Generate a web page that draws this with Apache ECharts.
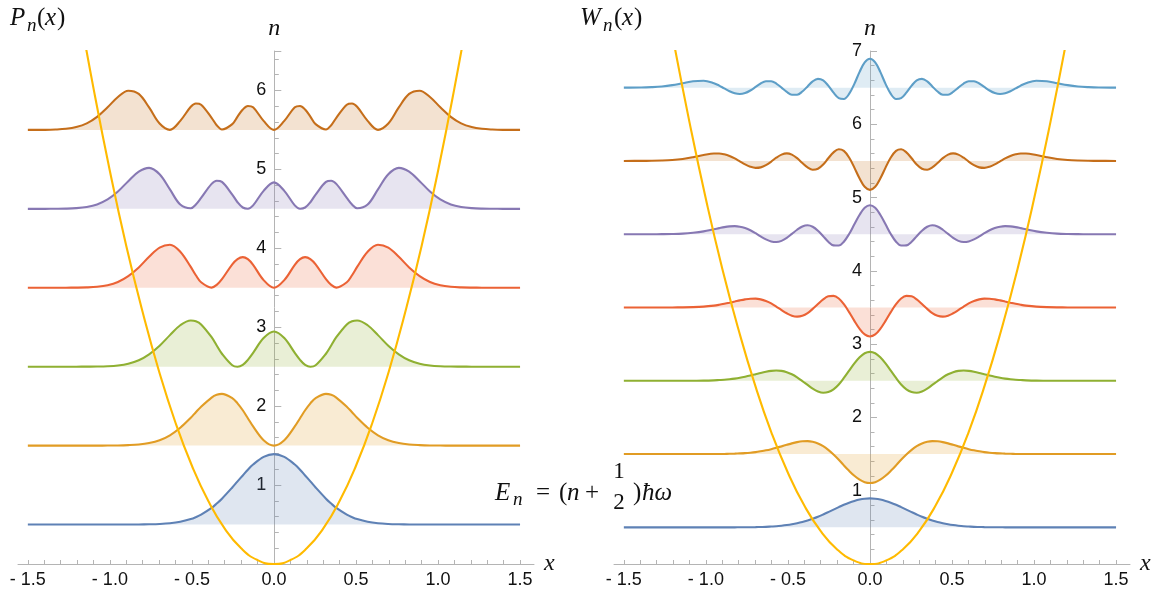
<!DOCTYPE html>
<html><head><meta charset="utf-8">
<script src="https://cdn.jsdelivr.net/npm/echarts@6/dist/echarts.min.js"></script>
<style>html,body{margin:0;padding:0;background:#fff}#c{width:1154px;height:593px}</style>
</head><body><div id="c"></div>
<script>
// ---- left panel: probability densities P_n(x) ----
const xLeft = [-1.5,-1.395,-1.331,-1.268,-1.205,-1.141,-1.078,-1.014,-0.951,-0.888,-0.824,-0.761,-0.697,-0.634,-0.571,-0.507,-0.476,-0.444,-0.38,-0.349,-0.317,-0.254,-0.222,-0.19,-0.159,-0.127,-0.063,0,0.063,0.127,0.159,0.19,0.222,0.254,0.317,0.349,0.38,0.444,0.476,0.507,0.571,0.634,0.697,0.761,0.824,0.888,0.951,1.014,1.078,1.141,1.205,1.268,1.331,1.395,1.5];
const P0 = [0,0,0,0,0,0,0,0,0,0,0.001,0.003,0.007,0.016,0.035,0.069,0.094,0.126,0.211,0.266,0.328,0.47,0.547,0.622,0.695,0.76,0.857,0.892,0.857,0.76,0.695,0.622,0.547,0.47,0.328,0.266,0.211,0.126,0.094,0.069,0.035,0.016,0.007,0.003,0.001,0,0,0,0,0,0,0,0,0,0];
const P1 = [0,0,0,0,0,0,0,0.001,0.002,0.006,0.014,0.032,0.068,0.131,0.226,0.353,0.423,0.493,0.609,0.644,0.656,0.602,0.536,0.448,0.347,0.243,0.069,0,0.069,0.243,0.347,0.448,0.536,0.602,0.656,0.644,0.609,0.493,0.423,0.353,0.226,0.131,0.068,0.032,0.014,0.006,0.002,0.001,0,0,0,0,0,0,0];
const P2 = [0,0,0,0,0,0.001,0.002,0.006,0.016,0.038,0.081,0.156,0.266,0.4,0.525,0.585,0.576,0.536,0.374,0.268,0.164,0.018,0,0.024,0.087,0.176,0.363,0.446,0.363,0.176,0.087,0.024,0,0.018,0.164,0.268,0.374,0.536,0.576,0.585,0.525,0.4,0.266,0.156,0.081,0.038,0.016,0.006,0.002,0.001,0,0,0,0,0];
const P3 = [0,0,0,0.001,0.002,0.005,0.013,0.033,0.074,0.148,0.258,0.392,0.508,0.545,0.457,0.264,0.159,0.07,0.002,0.036,0.109,0.297,0.364,0.388,0.362,0.291,0.097,0,0.097,0.291,0.362,0.388,0.364,0.297,0.109,0.036,0.002,0.07,0.159,0.264,0.457,0.545,0.508,0.392,0.258,0.148,0.074,0.033,0.013,0.005,0.002,0.001,0,0,0];
const P4 = [0,0,0.001,0.003,0.009,0.024,0.056,0.119,0.22,0.351,0.472,0.519,0.438,0.246,0.054,0.007,0.055,0.139,0.316,0.356,0.342,0.181,0.084,0.017,0.002,0.044,0.228,0.335,0.228,0.044,0.002,0.017,0.084,0.181,0.342,0.356,0.316,0.139,0.055,0.007,0.054,0.246,0.438,0.519,0.472,0.351,0.22,0.119,0.056,0.024,0.009,0.003,0.001,0,0];
const P5 = [0,0.001,0.005,0.014,0.036,0.083,0.166,0.287,0.417,0.497,0.456,0.285,0.081,0.001,0.115,0.293,0.335,0.32,0.154,0.06,0.006,0.074,0.169,0.258,0.304,0.287,0.115,0,0.115,0.287,0.304,0.258,0.169,0.074,0.006,0.06,0.154,0.32,0.335,0.293,0.115,0.001,0.081,0.285,0.456,0.497,0.417,0.287,0.166,0.083,0.036,0.014,0.005,0.001,0];
const leftLevels = [0.5, 1.5, 2.5, 3.5, 4.5, 5.5];

// ---- right panel: W_n(x) ----
const xRight = [-1.5,-1.395,-1.331,-1.268,-1.205,-1.141,-1.078,-1.014,-0.951,-0.919,-0.888,-0.856,-0.824,-0.793,-0.761,-0.729,-0.697,-0.666,-0.634,-0.602,-0.571,-0.539,-0.507,-0.476,-0.444,-0.412,-0.38,-0.349,-0.317,-0.285,-0.254,-0.222,-0.19,-0.159,-0.127,-0.095,-0.063,-0.032,0,0.032,0.063,0.095,0.127,0.159,0.19,0.222,0.254,0.285,0.317,0.349,0.38,0.412,0.444,0.476,0.507,0.539,0.571,0.602,0.634,0.666,0.697,0.729,0.761,0.793,0.824,0.856,0.888,0.919,0.951,1.014,1.078,1.141,1.205,1.268,1.331,1.395,1.5];
const W0 = [0,0,0,0,0,0,0,0,0,0,0,0,0,0.001,0.001,0.002,0.003,0.005,0.007,0.011,0.015,0.022,0.031,0.042,0.056,0.073,0.094,0.118,0.145,0.176,0.208,0.242,0.276,0.308,0.337,0.361,0.38,0.391,0.395,0.391,0.38,0.361,0.337,0.308,0.276,0.242,0.208,0.176,0.145,0.118,0.094,0.073,0.056,0.042,0.031,0.022,0.015,0.011,0.007,0.005,0.003,0.002,0.001,0.001,0,0,0,0,0,0,0,0,0,0,0,0,0];
const W1 = [0,0,0,0,0,0,0,0,0.001,0.001,0.002,0.004,0.006,0.009,0.013,0.019,0.027,0.038,0.051,0.067,0.085,0.105,0.126,0.146,0.163,0.174,0.176,0.167,0.145,0.109,0.058,-0.005,-0.077,-0.154,-0.229,-0.296,-0.349,-0.383,-0.395,-0.383,-0.349,-0.296,-0.229,-0.154,-0.077,-0.005,0.058,0.109,0.145,0.167,0.176,0.174,0.163,0.146,0.126,0.105,0.085,0.067,0.051,0.038,0.027,0.019,0.013,0.009,0.006,0.004,0.002,0.001,0.001,0,0,0,0,0,0,0,0];
const W2 = [0,0,0,0,0,0,0.001,0.002,0.006,0.01,0.014,0.021,0.03,0.041,0.055,0.071,0.089,0.107,0.123,0.135,0.14,0.135,0.118,0.089,0.047,-0.004,-0.057,-0.107,-0.145,-0.163,-0.154,-0.116,-0.05,0.039,0.138,0.237,0.32,0.376,0.395,0.376,0.32,0.237,0.138,0.039,-0.05,-0.116,-0.154,-0.163,-0.145,-0.107,-0.057,-0.004,0.047,0.089,0.118,0.135,0.14,0.135,0.123,0.107,0.089,0.071,0.055,0.041,0.03,0.021,0.014,0.01,0.006,0.002,0.001,0,0,0,0,0,0];
const W3 = [0,0,0,0,0.001,0.002,0.005,0.012,0.026,0.037,0.05,0.065,0.081,0.097,0.111,0.12,0.121,0.111,0.089,0.056,0.012,-0.035,-0.079,-0.112,-0.125,-0.114,-0.077,-0.019,0.048,0.111,0.152,0.159,0.123,0.045,-0.063,-0.183,-0.292,-0.368,-0.395,-0.368,-0.292,-0.183,-0.063,0.045,0.123,0.159,0.152,0.111,0.048,-0.019,-0.077,-0.114,-0.125,-0.112,-0.079,-0.035,0.012,0.056,0.089,0.111,0.121,0.12,0.111,0.097,0.081,0.065,0.05,0.037,0.026,0.012,0.005,0.002,0.001,0,0,0,0];
const W4 = [0,0,0,0.001,0.003,0.008,0.02,0.039,0.068,0.083,0.097,0.107,0.11,0.103,0.084,0.054,0.014,-0.03,-0.07,-0.098,-0.106,-0.091,-0.051,0.004,0.061,0.106,0.122,0.102,0.048,-0.027,-0.102,-0.152,-0.155,-0.102,0.002,0.135,0.265,0.36,0.395,0.36,0.265,0.135,0.002,-0.102,-0.155,-0.152,-0.102,-0.027,0.048,0.102,0.122,0.106,0.061,0.004,-0.051,-0.091,-0.106,-0.098,-0.07,-0.03,0.014,0.054,0.084,0.103,0.11,0.107,0.097,0.083,0.068,0.039,0.02,0.008,0.003,0.001,0,0,0];
const W5 = [0,0.001,0.002,0.005,0.012,0.027,0.051,0.08,0.101,0.101,0.09,0.068,0.034,-0.006,-0.047,-0.079,-0.095,-0.088,-0.057,-0.01,0.044,0.086,0.103,0.086,0.038,-0.028,-0.088,-0.12,-0.107,-0.049,0.036,0.117,0.159,0.137,0.047,-0.091,-0.24,-0.353,-0.395,-0.353,-0.24,-0.091,0.047,0.137,0.159,0.117,0.036,-0.049,-0.107,-0.12,-0.088,-0.028,0.038,0.086,0.103,0.086,0.044,-0.01,-0.057,-0.088,-0.095,-0.079,-0.047,-0.006,0.034,0.068,0.09,0.101,0.101,0.08,0.051,0.027,0.012,0.005,0.002,0.001,0];
const W6 = [0,0.002,0.007,0.016,0.034,0.061,0.087,0.094,0.061,0.028,-0.011,-0.049,-0.077,-0.087,-0.074,-0.039,0.009,0.057,0.087,0.088,0.056,0,-0.058,-0.097,-0.096,-0.053,0.017,0.086,0.12,0.099,0.027,-0.068,-0.143,-0.155,-0.086,0.052,0.215,0.345,0.395,0.345,0.215,0.052,-0.086,-0.155,-0.143,-0.068,0.027,0.099,0.12,0.086,0.017,-0.053,-0.096,-0.097,-0.058,0,0.056,0.088,0.087,0.057,0.009,-0.039,-0.074,-0.087,-0.077,-0.049,-0.011,0.028,0.061,0.094,0.087,0.061,0.034,0.016,0.007,0.002,0];
const rightLevels = [0.5, 1.5, 2.5, 3.5, 4.5, 5.5, 6.5];

// ---- potential well (same in both panels) ----
const potX = [-1.2,-1.1,-1.0,-0.9,-0.8,-0.7,-0.6,-0.5,-0.4,-0.3,-0.2,-0.1,0,0.1,0.2,0.3,0.4,0.5,0.6,0.7,0.8,0.9,1.0,1.1,1.2];
const potY = [7.17,6.03,4.98,4.03,3.19,2.44,1.79,1.245,0.797,0.448,0.199,0.05,0,0.05,0.199,0.448,0.797,1.245,1.79,2.44,3.19,4.03,4.98,6.03,7.17];

// ---- ticks ----
const xMinorTicks = [-1.5,-1.4,-1.3,-1.2,-1.1,-1.0,-0.9,-0.8,-0.7,-0.6,-0.5,-0.4,-0.3,-0.2,-0.1,0,0.1,0.2,0.3,0.4,0.5,0.6,0.7,0.8,0.9,1.0,1.1,1.2,1.3,1.4,1.5];
const xLabelTicks = [-1.5,-1.0,-0.5,0,0.5,1.0,1.5];

const palette = ['#5E81B5','#E19C24','#8FB032','#EB6235','#8778B3','#C56E1A','#5D9EC7'];
const wellColor = '#FFBA00';
const axisGray = '#b4b4b4';
const SERIF = '"Liberation Serif", "Times New Roman", "DejaVu Serif", serif';
const SANS = '"Liberation Sans", Arial, sans-serif';

function curve(xs, vals, level, color, idx) {
  return {
    type: 'line', xAxisIndex: idx, yAxisIndex: idx,
    data: xs.map((x, i) => [x, level + vals[i]]),
    smooth: 0.35, showSymbol: false, symbol: 'none', silent: true,
    lineStyle: { color: color, width: 2.1 },
    areaStyle: { color: color, opacity: 0.2, origin: level },
    z: 2
  };
}
function well(idx) {
  return {
    type: 'line', xAxisIndex: idx, yAxisIndex: idx,
    data: potX.map((x, i) => [x, potY[i]]),
    smooth: true, showSymbol: false, symbol: 'none', silent: true, clip: true,
    lineStyle: { color: wellColor, width: 2.1 }, z: 5
  };
}
const fmtX = v => v < 0 ? '- ' + Math.abs(v).toFixed(1) : v.toFixed(1);

function xAx(idx) {
  return {
    type: 'value', gridIndex: idx, min: -1.56, max: 1.585,
    axisLine: { show: true, onZero: false, lineStyle: { color: axisGray, width: 1 } },
    axisTick: { show: true, inside: true, length: 4, customValues: xMinorTicks, lineStyle: { color: axisGray } },
    axisLabel: { customValues: xLabelTicks, formatter: fmtX, fontSize: 18, color: '#111', margin: 7, fontFamily: SANS },
    splitLine: { show: false },
    name: 'x', nameLocation: 'end', nameGap: 10,
    nameTextStyle: { fontFamily: SERIF, fontStyle: 'italic', fontSize: 24, color: '#111' }
  };
}
function yAx(idx, max, off) {
  return {
    type: 'value', gridIndex: idx, min: 0, max: max, interval: 1,
    position: 'left', offset: off,
    axisLine: { show: true, onZero: false, lineStyle: { color: axisGray, width: 1 } },
    axisTick: { show: true, inside: true, length: 7, lineStyle: { color: axisGray } },
    minorTick: { show: true, splitNumber: 5, length: 4.5, lineStyle: { color: axisGray } },
    axisLabel: { formatter: v => (v === 0 || !Number.isInteger(v)) ? '' : String(v), fontSize: 18, color: '#111', margin: 8, fontFamily: SANS },
    splitLine: { show: false },
    name: 'n', nameLocation: 'end', nameGap: 10,
    nameTextStyle: { fontFamily: SERIF, fontStyle: 'italic', fontSize: 24, color: '#111' }
  };
}

const leftVals = [P0, P1, P2, P3, P4, P5];
const rightVals = [W0, W1, W2, W3, W4, W5, W6];
const series = [];
leftVals.forEach((v, k) => series.push(curve(xLeft, v, leftLevels[k], palette[k], 0)));
rightVals.forEach((v, k) => series.push(curve(xRight, v, rightLevels[k], palette[k], 1)));
series.push(well(0), well(1));

function txt(x, y, text, size, italic, align) {
  return { type: 'text', x: x, y: y, silent: true, z: 10,
    style: { text: text, fontSize: size, fontFamily: SERIF, fontStyle: italic ? 'italic' : 'normal',
      fill: '#111', verticalAlign: 'middle', align: align || 'left' } };
}

const graphic = [
  txt(10, 18, 'P', 25, true), txt(27, 26, 'n', 19, true),
  txt(37, 18, '(', 25, false), txt(45, 18, 'x', 25, true), txt(57, 18, ')', 25, false),
  txt(580, 18, 'W', 25, true), txt(603, 26, 'n', 19, true),
  txt(614, 18, '(', 25, false), txt(622, 18, 'x', 25, true), txt(634, 18, ')', 25, false),
  txt(495, 493, 'E', 25, true), txt(513, 500, 'n', 19, true),
  txt(536, 493, '=', 25, false), txt(559, 493, '(', 25, false), txt(567, 493, 'n', 25, true),
  txt(585, 493, '+', 25, false),
  txt(619, 472, '1', 23, false, 'center'), txt(619, 503, '2', 23, false, 'center'),
  txt(633, 493, ')', 25, false), txt(642, 493, 'ħω', 25, true)
];

const chart = echarts.init(document.getElementById('c'), null, { renderer: 'canvas' });
chart.setOption({
  animation: false,
  backgroundColor: '#ffffff',
  grid: [
    { left: 18, right: 620, top: 51, bottom: 29, containLabel: false, outerBoundsMode: 'none' },
    { left: 614, right: 24, top: 51, bottom: 29, containLabel: false, outerBoundsMode: 'none' }
  ],
  xAxis: [xAx(0), xAx(1)],
  yAxis: [yAx(0, 6.5, -256.3), yAx(1, 7, -256)],
  series: series,
  graphic: graphic
});
</script></body></html>
